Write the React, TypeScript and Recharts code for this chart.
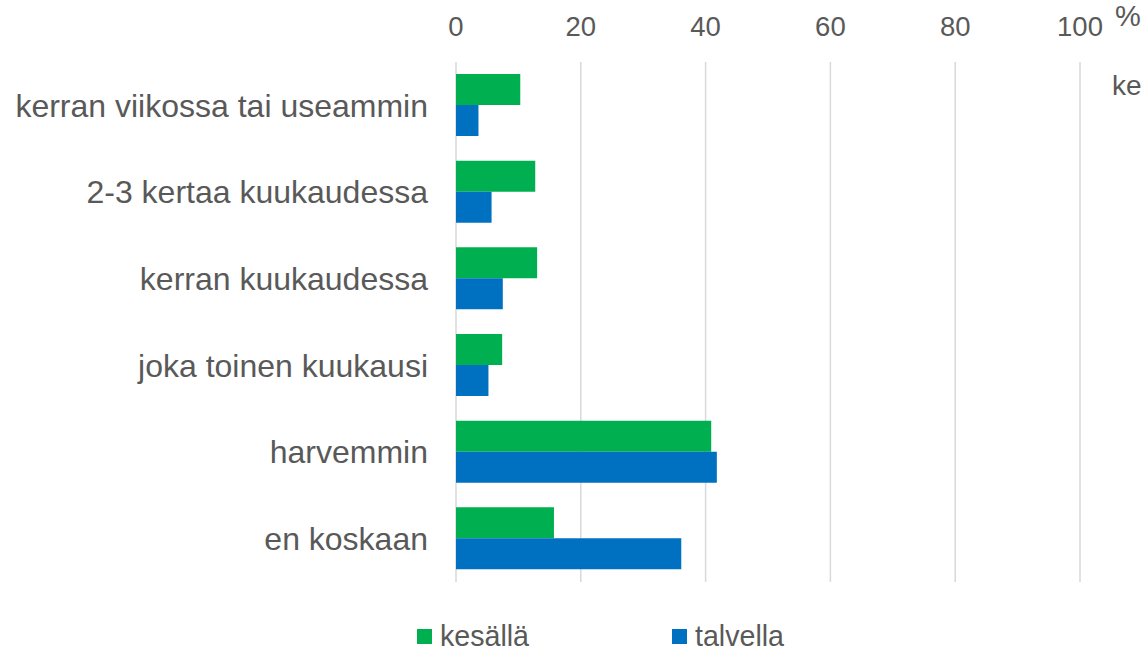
import { BarChart, Bar, XAxis, YAxis, CartesianGrid, Legend } from 'recharts';

const categories = [
  'kerran viikossa tai useammin',
  '2-3 kertaa kuukaudessa',
  'kerran kuukaudessa',
  'joka toinen kuukausi',
  'harvemmin',
  'en koskaan',
];
const kesalla = [10.3, 12.7, 13.0, 7.4, 40.9, 15.7];
const talvella = [3.6, 5.7, 7.5, 5.2, 41.8, 36.1];
const xTicks = [0, 20, 40, 60, 80, 100];

const GREEN = '#00b050';
const BLUE = '#0070c0';
const TEXT = '#595959';
const FONT = "'Liberation Sans', Arial, sans-serif";

const data = categories.map((name, i) => ({
  name,
  kesalla: kesalla[i],
  talvella: talvella[i],
}));

// legend with wide gap between the two items, like the original
function renderLegend() {
  const item = (color: string, label: string, left: number) => (
    <div
      key={label}
      style={{ position: 'absolute', left, top: 0, display: 'flex', alignItems: 'center' }}
    >
      <span style={{ display: 'inline-block', width: 15, height: 15, background: color, marginRight: 8 }} />
      <span style={{ fontSize: 28.6, color: TEXT, lineHeight: '32px' }}>{label}</span>
    </div>
  );
  return (
    <div style={{ position: 'relative', height: 32, fontFamily: FONT }}>
      {item(GREEN, 'kesällä', 417)}
      {item(BLUE, 'talvella', 672)}
    </div>
  );
}

export default function App() {
  return (
    <div style={{ position: 'absolute', left: 0, top: 0, width: 1146, height: 651, fontFamily: FONT, background: '#fff' }}>
      <BarChart
        width={1146}
        height={651}
        data={data}
        layout="vertical"
        margin={{ top: 0, right: 66, bottom: 37, left: 0 }}
        barSize={31}
        barGap={0}
      >
        <CartesianGrid horizontal={false} stroke="#d9d9d9" strokeWidth={1.5} />
        <XAxis
          type="number"
          orientation="top"
          domain={[0, 100]}
          ticks={xTicks}
          height={62}
          axisLine={false}
          tickLine={false}
          tickSize={0}
          tickMargin={26}
          tick={{ fontSize: 27.5, fill: TEXT, fontFamily: FONT }}
        />
        <YAxis
          type="category"
          dataKey="name"
          width={456}
          axisLine={false}
          tickLine={false}
          tickSize={0}
          tickMargin={28}
          tick={{ fontSize: 32, fill: TEXT, fontFamily: FONT }}
        />
        <Legend
          verticalAlign="bottom"
          content={renderLegend}
          wrapperStyle={{ left: 0, top: 620, width: 1146 }}
        />
        <Bar dataKey="kesalla" name="kesällä" fill={GREEN} isAnimationActive={false} />
        <Bar dataKey="talvella" name="talvella" fill={BLUE} isAnimationActive={false} />
      </BarChart>
      <span style={{ position: 'absolute', left: 1115, top: 0, fontSize: 29, color: TEXT }}>%</span>
      <span style={{ position: 'absolute', left: 1112, top: 70, fontSize: 28, color: TEXT }}>ke</span>
    </div>
  );
}
